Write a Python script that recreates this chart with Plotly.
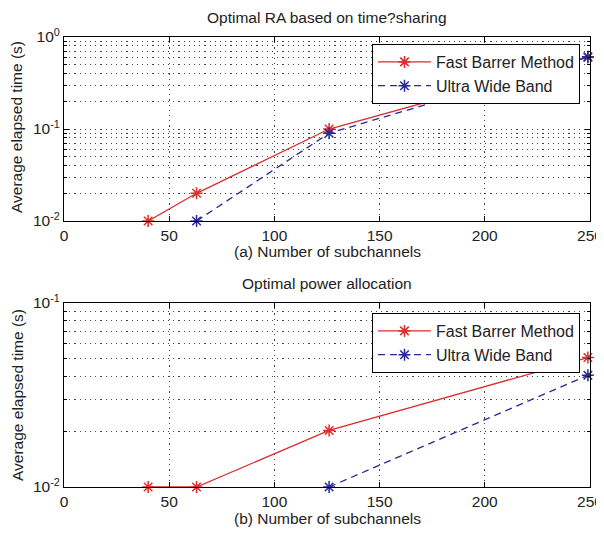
import plotly.graph_objects as go

# ---- data ----
x_a_fbm = [40, 63, 126, 249]
y_a_fbm = [0.01, 0.02, 0.10, 0.60]
x_a_uwb = [63, 126, 249]
y_a_uwb = [0.01, 0.09, 0.61]

x_b_fbm = [40, 63, 126, 249]
y_b_fbm = [0.01, 0.01, 0.0203, 0.0505]
x_b_uwb = [126, 249]
y_b_uwb = [0.01, 0.0405]

series_names = ["Fast Barrer Method", "Ultra Wide Band"]
x_ticks = [0, 50, 100, 150, 200, 250]
titles = ["Optimal RA based on time?sharing", "Optimal power allocation"]
xlabels = ["(a) Number of subchannels", "(b) Number of subchannels"]
ylabel = "Average elapsed time (s)"

# the page body has an 8px default margin, so the figure is sized to fit the window
OFF = 8
W, H = 604 - OFF, 536 - 2 * OFF
FONT = "Liberation Sans, Arial, sans-serif"
FS = 15.5
TXT = "#222"
RED = "rgb(220,45,45)"
BLUE = "rgb(40,40,150)"
GRID = "#444"
DOT = "1.2px,4px"

def px_x(p):
    return (p - OFF) / W

def px_y(p):
    return 1 - (p - OFF) / H

fig = go.Figure()

def add_series(x, y, name, color, dash, xa, ya, legend):
    fig.add_trace(go.Scatter(
        x=x, y=y, name=name, mode="lines+markers",
        line=dict(color=color, width=1.3, dash=dash),
        marker=dict(symbol="asterisk-open", size=10, color=color,
                    line=dict(color=color, width=1.5)),
        xaxis=xa, yaxis=ya, legend=legend, showlegend=True,
        cliponaxis=False,
    ))

add_series(x_a_fbm, y_a_fbm, series_names[0], RED, "solid", "x", "y", "legend")
add_series(x_a_uwb, y_a_uwb, series_names[1], BLUE, "7px,5px", "x", "y", "legend")
add_series(x_b_fbm, y_b_fbm, series_names[0], RED, "solid", "x2", "y2", "legend2")
add_series(x_b_uwb, y_b_uwb, series_names[1], BLUE, "7px,5px", "x2", "y2", "legend2")

xdom = [px_x(64), px_x(590)]
ydom_top = [px_y(221), px_y(37)]
ydom_bot = [px_y(487), px_y(303)]

def xaxis_cfg(anchor):
    return dict(
        domain=xdom, anchor=anchor, range=[0, 250],
        tickvals=x_ticks, ticktext=[str(v) for v in x_ticks],
        showgrid=True, gridcolor=GRID, griddash=DOT, gridwidth=1,
        showline=True, linecolor="black", linewidth=1, mirror="allticks",
        ticks="inside", ticklen=5, tickcolor="black",
        tickfont=dict(family=FONT, size=FS, color=TXT),
        ticklabeloverflow="allow",
        zeroline=False, automargin=False,
    )

def yaxis_cfg(anchor, dom, lo_exp, hi_exp):
    majors = [10.0 ** e for e in range(lo_exp, hi_exp + 1)]
    minors = []
    for e in range(lo_exp, hi_exp):
        for k in range(2, 10):
            minors.append(k * 10.0 ** e)
    return dict(
        domain=dom, anchor=anchor, type="log", range=[lo_exp, hi_exp],
        tickvals=majors,
        ticktext=["10<sup>%d</sup>" % e for e in range(lo_exp, hi_exp + 1)],
        showgrid=True, gridcolor=GRID, griddash=DOT, gridwidth=1,
        showline=True, linecolor="black", linewidth=1, mirror="allticks",
        ticks="inside", ticklen=5, tickcolor="black",
        tickfont=dict(family=FONT, size=FS, color=TXT),
        ticklabeloverflow="allow",
        minor=dict(tickvals=minors, showgrid=True, gridcolor=GRID,
                   griddash=DOT, gridwidth=1, ticks="inside", ticklen=3,
                   tickcolor="black"),
        zeroline=False, automargin=False,
    )

legend_common = dict(
    xanchor="left", yanchor="top", bgcolor="white",
    bordercolor="black", borderwidth=1,
    font=dict(family=FONT, size=16, color=TXT),
    itemwidth=53, tracegroupgap=0,
)

annotations = []
cx = (xdom[0] + xdom[1]) / 2
for t, yc in zip(titles, [17, 283]):
    annotations.append(dict(text=t, x=cx, y=px_y(yc),
                            xref="paper", yref="paper", showarrow=False,
                            xanchor="center", yanchor="middle",
                            font=dict(family=FONT, size=FS, color=TXT)))
for t, yc in zip(xlabels, [251, 518]):
    annotations.append(dict(text=t, x=cx, y=px_y(yc),
                            xref="paper", yref="paper", showarrow=False,
                            xanchor="center", yanchor="middle",
                            font=dict(family=FONT, size=FS, color=TXT)))
for yc in [127, 395]:
    annotations.append(dict(text=ylabel, x=px_x(17), y=px_y(yc),
                            xref="paper", yref="paper", showarrow=False,
                            textangle=-90, xanchor="center", yanchor="middle",
                            font=dict(family=FONT, size=FS, color=TXT)))

fig.update_layout(
    width=W, height=H,
    margin=dict(l=0, r=0, t=0, b=0),
    paper_bgcolor="white", plot_bgcolor="white",
    xaxis=xaxis_cfg("y"),
    yaxis=yaxis_cfg("x", ydom_top, -2, 0),
    xaxis2=xaxis_cfg("y2"),
    yaxis2=yaxis_cfg("x2", ydom_bot, -2, -1),
    legend=dict(x=px_x(372), y=px_y(44), **legend_common),
    legend2=dict(x=px_x(372), y=px_y(313), **legend_common),
    annotations=annotations,
    showlegend=True,
)

fig.write_html("out.html")
